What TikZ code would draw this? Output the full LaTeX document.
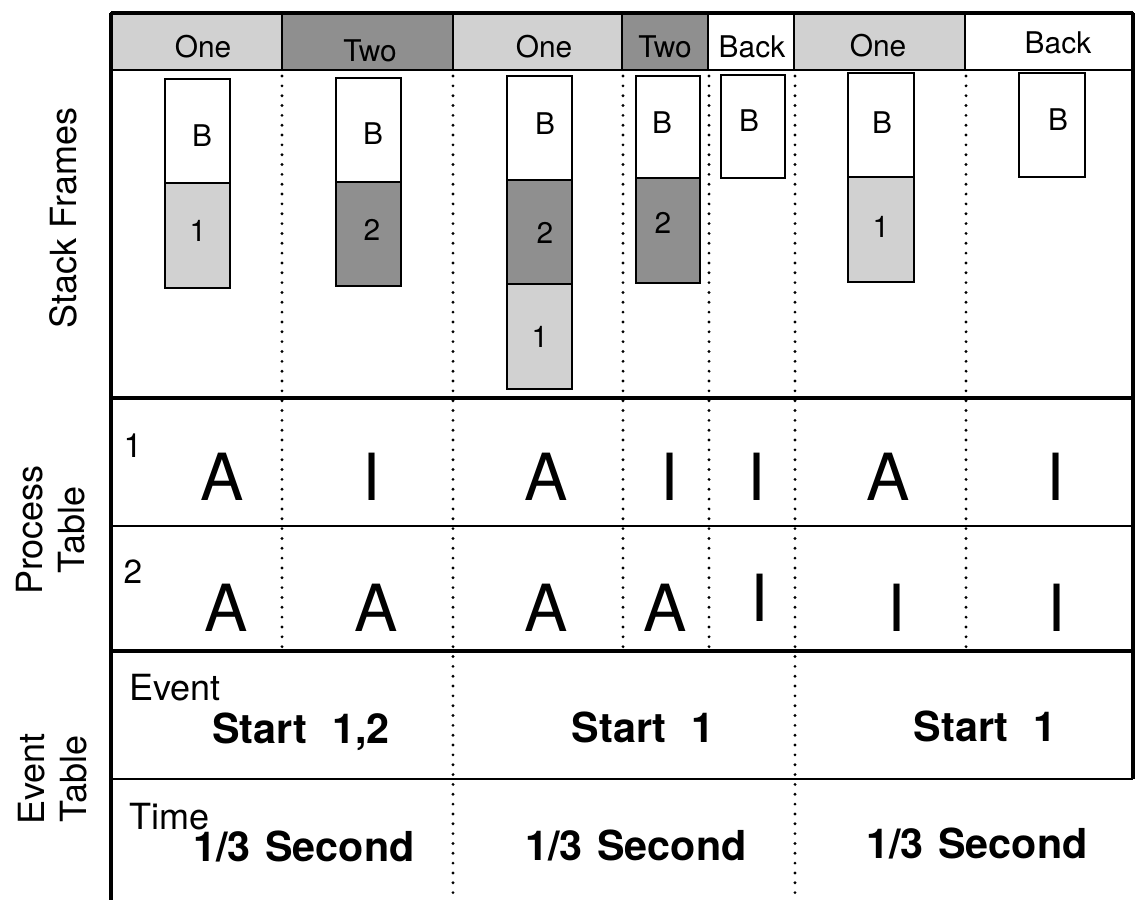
\documentclass[tikz,border=0pt]{standalone}
\usepackage{fontspec}
\setmainfont{TeX Gyre Heros}
\usepackage{tikz}
\usepackage{xcolor}
\definecolor{shadeone}{gray}{0.82}
\definecolor{shadetwo}{gray}{0.56}

\begin{document}
\begin{tikzpicture}[x=0.02cm,y=-0.02cm,
  every node/.style={font=\fontsize{17}{19}\selectfont,inner sep=0pt},
  heavy/.style={line width=1.9pt},
  rule/.style={line width=1.2pt},
  dotrule/.style={line width=1.8pt,dash pattern=on 0pt off 5.6pt,line cap=round},
  hdr/.style={anchor=base},
  big/.style={font=\fontsize{37}{40}\selectfont,anchor=base},
  entry/.style={font=\bfseries\fontsize{23.5}{26}\selectfont,anchor=base},
  side/.style={font=\fontsize{20.5}{24}\selectfont,rotate=90,align=center}]
\useasboundingbox (0,0) rectangle (1135,900);
\fill[shadeone] (111,13) rectangle (282,70);
\draw[rule] (111,13) rectangle (282,70);
\node[hdr] (hdr1) at (203,57) {One};
\fill[shadetwo] (282,13) rectangle (453,70);
\draw[rule] (282,13) rectangle (453,70);
\node[hdr] (hdr2) at (370,61) {Two};
\fill[shadeone] (453,13) rectangle (622,70);
\draw[rule] (453,13) rectangle (622,70);
\node[hdr] (hdr3) at (544,57) {One};
\fill[shadetwo] (622,13) rectangle (708,70);
\draw[rule] (622,13) rectangle (708,70);
\node[hdr] (hdr4) at (665,57) {Two};
\fill[white] (708,13) rectangle (794,70);
\draw[rule] (708,13) rectangle (794,70);
\node[hdr] (hdr5) at (752,57) {Back};
\fill[shadeone] (794,13) rectangle (965,70);
\draw[rule] (794,13) rectangle (965,70);
\node[hdr] (hdr6) at (878,56) {One};
\fill[white] (965,13) rectangle (1133,70);
\draw[rule] (965,13) rectangle (1133,70);
\node[hdr] (hdr7) at (1058,53) {Back};
\draw[heavy] (111,13) -- (1133,13);
\draw[heavy] (111,13) -- (111,900);
\draw[heavy] (1133,13) -- (1133,779);
\draw[heavy] (111,398) -- (1133,398);
\draw[rule] (111,526) -- (1133,526);
\draw[heavy] (111,651) -- (1133,651);
\draw[rule] (111,779) -- (1133,779);
\draw[dotrule] (282,76) -- (282,651);
\draw[dotrule] (453,76) -- (453,900);
\draw[dotrule] (623,76) -- (623,651);
\draw[dotrule] (709,76) -- (709,651);
\draw[dotrule] (795,76) -- (795,900);
\draw[dotrule] (966,76) -- (966,651);
\draw[rule] (165,79) rectangle (230,183);
\node (c1b) at (202,136) {B};
\fill[shadeone] (165,183) rectangle (230,288);
\draw[rule] (165,183) rectangle (230,288);
\node (c1p) at (198,231) {1};
\draw[rule] (336,78) rectangle (401,182);
\node (c2b) at (373,134) {B};
\fill[shadetwo] (336,182) rectangle (401,286);
\draw[rule] (336,182) rectangle (401,286);
\node (c2q) at (372,230) {2};
\draw[rule] (507,76) rectangle (572,180);
\node (c3b) at (545,124) {B};
\fill[shadetwo] (507,180) rectangle (572,284);
\draw[rule] (507,180) rectangle (572,284);
\node (c3q) at (545,233) {2};
\fill[shadeone] (507,284) rectangle (572,389);
\draw[rule] (507,284) rectangle (572,389);
\node (c3p) at (540,337) {1};
\draw[rule] (636,76) rectangle (700,178);
\node (c4b) at (662,123) {B};
\fill[shadetwo] (636,178) rectangle (700,283);
\draw[rule] (636,178) rectangle (700,283);
\node (c4q) at (663,223) {2};
\draw[rule] (721,75) rectangle (785,178);
\node (c5b) at (749,121) {B};
\draw[rule] (848,73) rectangle (914,177);
\node (c6b) at (882,123) {B};
\fill[shadeone] (848,177) rectangle (914,282);
\draw[rule] (848,177) rectangle (914,282);
\node (c6p) at (881,227) {1};
\draw[rule] (1019,73) rectangle (1085,177);
\node (c7b) at (1058,120) {B};
\node[side] (lblstack) at (63,218) {Stack Frames};
\node[side] (lblproc) at (51,530) {Process\\Table};
\node[side] (lblevent) at (53,779) {Event\\Table};
\node[anchor=base,font=\fontsize{19}{21}\selectfont] (rowone) at (133,457) {1};
\node[anchor=base,font=\fontsize{19}{21}\selectfont] (rowtwo) at (133,583) {2};
\node[big] (pa1) at (222,500) {A};
\node[big] (pa2) at (372,500) {I};
\node[big] (pa3) at (546,500) {A};
\node[big] (pa4) at (670,500) {I};
\node[big] (pa5) at (757,500) {I};
\node[big] (pa6) at (888,500) {A};
\node[big] (pa7) at (1056,500) {I};
\node[big] (pb1) at (226,631) {A};
\node[big] (pb2) at (376,631) {A};
\node[big] (pb3) at (546,631) {A};
\node[big] (pb4) at (665,631) {A};
\node[big] (pb5) at (760,621) {I};
\node[big] (pb6) at (897,631) {I};
\node[big] (pb7) at (1057,631) {I};
\node[anchor=base west,font=\fontsize{20.5}{22}\selectfont] (evlabel) at (129,700) {Event};
\node[anchor=base west,font=\fontsize{20.5}{22}\selectfont] (tmlabel) at (129,829) {Time};
\node[entry] (ev1) at (301,743) {Start\hspace{0.6em}1,2};
\node[entry] (ev2) at (643,742) {Start\hspace{0.6em}1};
\node[entry] (ev3) at (985,741) {Start\hspace{0.6em}1};
\node[entry] (tm1) at (304,861) {1/3\hspace{0.35em}Second};
\node[entry] (tm2) at (636,860) {1/3\hspace{0.35em}Second};
\node[entry] (tm3) at (977,858) {1/3\hspace{0.35em}Second};
\end{tikzpicture}
\end{document}
